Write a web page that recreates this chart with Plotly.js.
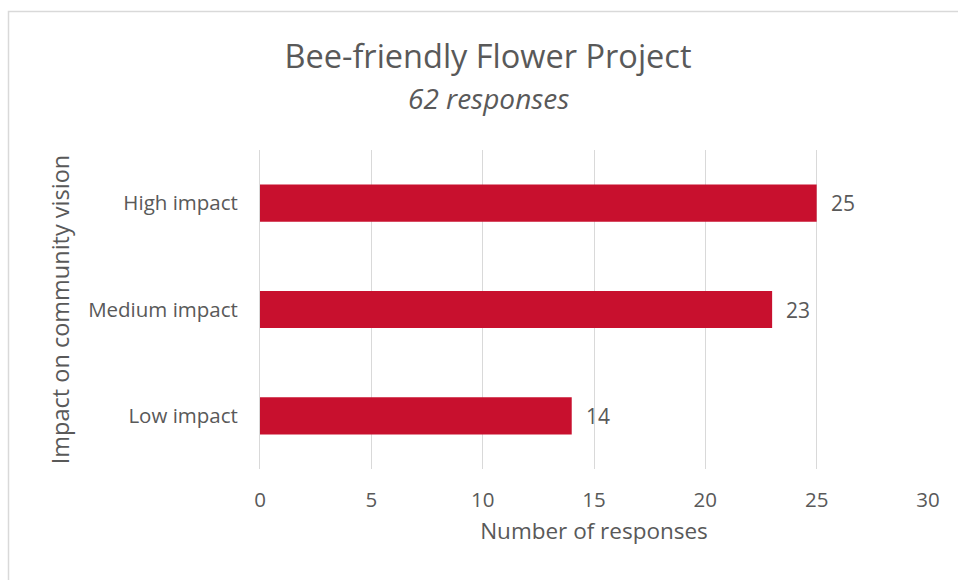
<!DOCTYPE html>
<html>
<head>
<meta charset="utf-8">
<script src="https://cdn.plot.ly/plotly-3.0.1.min.js"></script>
<style>
  html, body { margin: 0; padding: 0; background: #ffffff; }
  #chart { width: 958px; height: 580px; }
</style>
</head>
<body>
<div id="chart"></div>
<script>
// Survey results: impact of the Bee-friendly Flower Project on community vision
const categories = ["Low impact", "Medium impact", "High impact"];
const responses = [14, 23, 25];
const xTicks = [0, 5, 10, 15, 20, 25, 30];

const textColor = "#595959";
const barColor = "#C8102E";
const gridColor = "#D9D9D9";
const fontFamily = "'Open Sans', 'Noto Sans', sans-serif";

const trace = {
  type: "bar",
  orientation: "h",
  x: responses,
  y: categories,
  marker: { color: barColor },
  hoverinfo: "x+y"
};

// value labels just past the end of each bar
const valueLabels = categories.map((c, i) => ({
  x: responses[i],
  y: c,
  xref: "x",
  yref: "y",
  text: String(responses[i]),
  showarrow: false,
  xanchor: "left",
  xshift: 12,
  font: { family: fontFamily, size: 21, color: textColor }
}));

const layout = {
  width: 958,
  height: 580,
  paper_bgcolor: "#ffffff",
  plot_bgcolor: "#ffffff",
  margin: { l: 260, r: 30, t: 150, b: 111 },
  font: { family: fontFamily, color: textColor },
  showlegend: false,
  bargap: 0.65,
  title: {
    text: "Bee-friendly Flower Project",
    font: { family: fontFamily, size: 32.5, color: textColor },
    x: 488 / 958,
    xanchor: "center",
    xref: "container",
    y: 1 - 57 / 580,
    yanchor: "middle",
    yref: "container"
  },
  xaxis: {
    range: [0, 30],
    tickvals: xTicks,
    ticktext: xTicks.map(String),
    showgrid: true,
    gridcolor: gridColor,
    gridwidth: 1,
    zeroline: false,
    showline: false,
    ticks: "",
    ticklabelstandoff: 16,
    tickfont: { family: fontFamily, size: 20.5, color: textColor },
    title: {
      text: "Number of responses",
      font: { family: fontFamily, size: 22.5, color: textColor },
      standoff: 11
    },
    automargin: false,
    fixedrange: true
  },
  yaxis: {
    type: "category",
    categoryorder: "array",
    categoryarray: categories,
    showgrid: false,
    zeroline: false,
    showline: true,
    linecolor: gridColor,
    linewidth: 1,
    ticks: "",
    ticklabelstandoff: 17,
    tickfont: { family: fontFamily, size: 20.5, color: textColor },
    title: {
      text: "Impact on community vision",
      font: { family: fontFamily, size: 23.5, color: textColor },
      standoff: 11
    },
    automargin: false,
    fixedrange: true
  },
  annotations: [
    {
      text: "<i>62 responses</i>",
      xref: "paper",
      yref: "paper",
      x: (488 - 260) / 668,
      y: (469 - 98) / 319,
      xanchor: "center",
      yanchor: "middle",
      showarrow: false,
      font: { family: fontFamily, size: 28, color: textColor }
    }
  ].concat(valueLabels),
  shapes: [
    {
      // light frame around the chart area
      type: "rect",
      xref: "paper",
      yref: "paper",
      x0: (8.5 - 260) / 668,
      x1: (970 - 260) / 668,
      y0: (469 - 600) / 319,
      y1: (469 - 11.5) / 319,
      line: { color: gridColor, width: 1.5 },
      fillcolor: "rgba(0,0,0,0)",
      layer: "below"
    }
  ]
};

Plotly.newPlot("chart", [trace], layout, { displayModeBar: false, staticPlot: true });
</script>
</body>
</html>
